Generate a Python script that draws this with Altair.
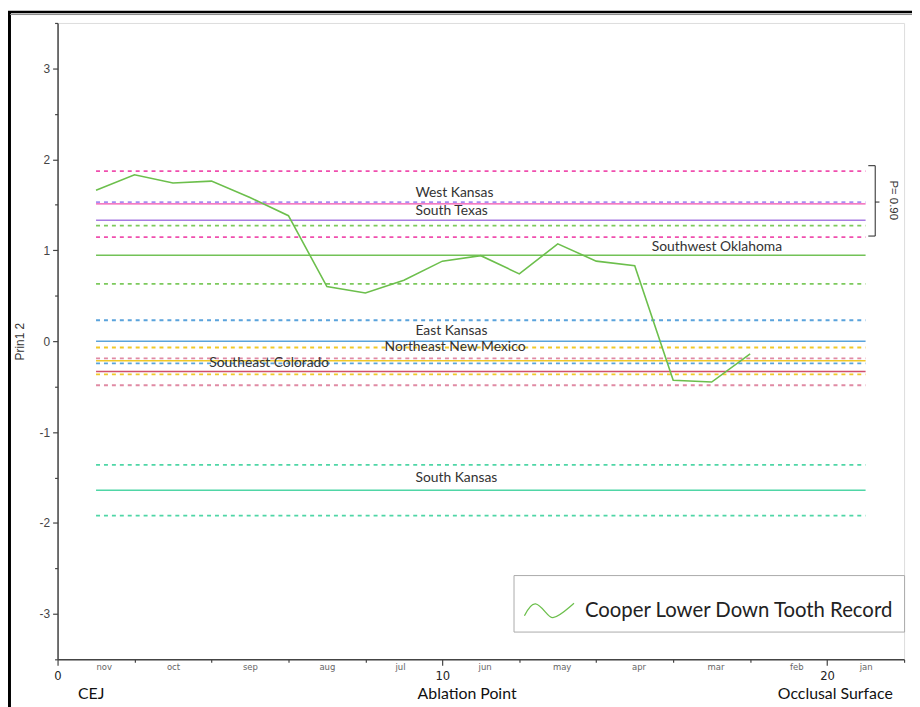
import altair as alt
import pandas as pd

# ---------------- data ----------------
regions = ["West Kansas", "South Texas", "Southwest Oklahoma", "East Kansas",
           "Northeast New Mexico", "Southeast Colorado", "South Kansas"]
mean_vals = [1.51, 1.33, 0.945, 0.0, -0.215, -0.335, -1.64]
upper_vals = [1.87, 1.53, 1.27, 0.23, -0.07, -0.19, -1.36]
lower_vals = [1.145, None, 0.63, -0.245, -0.365, -0.485, -1.92]
line_start = 1.0
line_end = 21.0

label_x = [9.3, 9.3, 15.44, 9.3, 8.5, 3.94, 9.3]
label_y = [1.63, 1.43, 1.04, 0.11, -0.065, -0.24, -1.505]

record_name = "Cooper Lower Down Tooth Record"
record_x = list(range(1, 19))
record_y = [1.66, 1.83, 1.74, 1.76, 1.58, 1.38, 0.60, 0.53, 0.67, 0.88,
            0.94, 0.74, 1.07, 0.88, 0.83, -0.43, -0.45, -0.14]

month_names = ["nov", "oct", "sep", "aug", "jul", "jun", "may", "apr", "mar", "feb", "jan"]
month_pos = [1.2, 3.0, 5.0, 7.0, 8.9, 11.1, 13.1, 15.1, 17.1, 19.2, 21.0]
region_titles = ["CEJ", "Ablation Point", "Occlusal Surface"]
region_title_pos = [0.86, 10.63, 20.2]
x_ticks = list(range(0, 23, 2)) + [10, 20]
y_ticks = [v / 2 for v in range(-7, 8)]

bracket_x = [21.07, 21.25, 21.25, 21.07]
bracket_y = [1.93, 1.93, 1.156, 1.156]
bracket_mid_x = [21.25, 21.36]
bracket_mid_y = [1.53, 1.53]
p_text = "P= 0.90"
p_x = 21.72
p_y = 1.55

# ---------------- styles ----------------
mean_colors = ["#f04fae", "#a77be2", "#72c257", "#5aa3dc", "#f0c828", "#d0506e", "#4fd6a6"]
limit_colors = ["#f04fae", "#a58ef2", "#7cc95c", "#5aa3dc", "#f0c828", "#e08aa4", "#4fd6a6"]

W, H = 854, 642
narrow = "Liberation Sans Narrow, DejaVu Sans Condensed, Arial Narrow, sans-serif"

# ---------------- tables ----------------
mean_df = pd.DataFrame({"region": regions, "key": regions, "value": mean_vals,
                        "x0": line_start, "x1": line_end})
lim_rows = []
for r, u, l in zip(regions, upper_vals, lower_vals):
    for v in (u, l):
        if v is not None:
            lim_rows.append({"region": r, "key": r + " limits", "value": v,
                             "x0": line_start, "x1": line_end})
lim_df = pd.DataFrame(lim_rows)
label_df = pd.DataFrame({"region": regions, "x": label_x, "y": label_y})
rec_df = pd.DataFrame({"x": record_x, "y": record_y, "series": record_name})
br_df = pd.DataFrame({
    "x": bracket_x + bracket_mid_x,
    "y": bracket_y + bracket_mid_y,
    "seg": ["a"] * len(bracket_x) + ["b"] * len(bracket_mid_x),
    "o": list(range(len(bracket_x))) + list(range(len(bracket_mid_x))),
})
p_df = pd.DataFrame({"x": [p_x], "y": [p_y], "t": [p_text]})

stroke_scale = alt.Scale(domain=regions + [r + " limits" for r in regions],
                         range=mean_colors + limit_colors)
xscale = alt.Scale(domain=[0, 22], nice=False, zero=False)
yscale = alt.Scale(domain=[-3.5, 3.5], nice=False, zero=False)


def lookup_expr(positions, names):
    s = "".join(f"datum.value == {p} ? '{n}' : " for p, n in zip(positions, names))
    return s + "''"


# numeric axis (ticks + 0/10/20)
axis_num = alt.Axis(
    orient="bottom", values=sorted(set(x_ticks)),
    labelExpr="datum.value % 10 == 0 ? '' + datum.value : ''",
    title=None, grid=False, labelOverlap=False, labelBound=False, labelFlush=False,
    labelAngle=0, labelBaseline="top", labelPadding=4,
    labelFont=narrow, labelFontSize=13, labelColor="#222",
    domainColor="#444", domainWidth=1.5, tickColor="#444", tickWidth=1.2,
    tickSize={"condition": {"test": "datum.value % 10 == 0", "value": 6}, "value": 3},
)
# month axis
axis_month = alt.Axis(
    orient="bottom", values=month_pos, labelExpr=lookup_expr(month_pos, month_names),
    title=None, grid=False, ticks=False, domain=False, labelOverlap=False,
    labelBound=False, labelFlush=False, labelAngle=0, labelBaseline="top",
    labelPadding=2, labelFont=narrow, labelFontSize=9.5, labelColor="#666",
)
# region title axis
axis_title = alt.Axis(
    orient="bottom", values=region_title_pos,
    labelExpr=lookup_expr(region_title_pos, region_titles),
    title=None, grid=False, ticks=False, domain=False, labelOverlap=False,
    labelBound=False, labelFlush=False, labelAngle=0, labelBaseline="top",
    labelPadding=27, labelFont="Lato", labelFontSize=16, labelColor="#111",
)

yaxis = alt.Axis(
    values=y_ticks,
    labelExpr="datum.value % 1 == 0 ? '' + datum.value : ''",
    title="Prin1 2", titleFont="Liberation Sans", titleFontWeight="normal",
    titleFontSize=12, titleColor="#333", titleX=-38, titleY=H / 2,
    titleAngle=270, titleAlign="center", titleBaseline="middle",
    grid=False, labelFont="Liberation Sans", labelFontSize=12, labelColor="#444",
    labelPadding=3, domainColor="#444", domainWidth=1.5, tickColor="#444",
    tickWidth=1.2,
    tickSize={"condition": {"test": "datum.value % 1 == 0", "value": 5}, "value": 3},
)

# ---------------- layers ----------------
dummy = pd.DataFrame({"k": [0]})
frame_left = alt.Chart(dummy).mark_rule(color="black", strokeWidth=3).encode(
    x=alt.value(-48.5), y=alt.value(-12), y2=alt.value(H + 50))
frame_top = alt.Chart(dummy).mark_rule(color="black", strokeWidth=2.5).encode(
    x=alt.value(-50), x2=alt.value(W + 10), y=alt.value(-11))
frame_top2 = alt.Chart(dummy).mark_rule(color="#888", strokeWidth=1).encode(
    x=alt.value(-48), x2=alt.value(W + 10), y=alt.value(-8.5))

limits = alt.Chart(lim_df).mark_rule(strokeWidth=1.8, strokeDash=[4, 4]).encode(
    x=alt.X("x0:Q", scale=xscale, axis=axis_num),
    x2="x1:Q",
    y=alt.Y("value:Q", scale=yscale, axis=yaxis),
    stroke=alt.Stroke("key:N", scale=stroke_scale, legend=None),
)
means = alt.Chart(mean_df).mark_rule(strokeWidth=1.5).encode(
    x=alt.X("x0:Q", scale=xscale, axis=axis_month), x2="x1:Q",
    y=alt.Y("value:Q", scale=yscale, axis=yaxis),
    stroke=alt.Stroke("key:N", scale=stroke_scale, legend=None),
)
labels = alt.Chart(label_df).mark_text(
    align="left", baseline="middle", font="Lato", fontSize=14, color="#333"
).encode(x=alt.X("x:Q", scale=xscale, axis=axis_title),
         y=alt.Y("y:Q", scale=yscale, axis=yaxis), text="region:N")

record = alt.Chart(rec_df).mark_line(strokeWidth=1.6).encode(
    x=alt.X("x:Q", scale=xscale, axis=None),
    y=alt.Y("y:Q", scale=yscale, axis=yaxis),
    color=alt.Color("series:N",
                    scale=alt.Scale(domain=[record_name], range=["#6cbf4c"]),
                    legend=alt.Legend(
                        title=None, orient="none", legendX=460, legendY=557,
                        padding=10, strokeColor="#aaa", fillColor="white",
                        symbolType="M-1,0.2 C-0.85,-0.1 -0.7,-0.3 -0.55,-0.28 "
                                   "C-0.3,-0.25 -0.05,0.3 0.15,0.28 "
                                   "C0.4,0.25 0.7,-0.05 1,-0.3",
                        symbolSize=2500, symbolStrokeWidth=1.3,
                        symbolFillColor="transparent",
                        labelFont="Lato", labelFontSize=20.5, labelColor="#222",
                        labelLimit=0, labelOffset=10)),
)

bracket = alt.Chart(br_df).mark_line(color="#222", strokeWidth=1).encode(
    x=alt.X("x:Q", scale=xscale, axis=None),
    y=alt.Y("y:Q", scale=yscale, axis=yaxis), detail="seg:N", order="o:Q")
ptext = alt.Chart(p_df).mark_text(angle=90, font="Liberation Sans", fontSize=11.5,
                                  color="#333", baseline="middle", align="center").encode(
    x=alt.X("x:Q", scale=xscale, axis=None),
    y=alt.Y("y:Q", scale=yscale, axis=yaxis), text="t:N")

chart = alt.layer(
    limits, means, labels, record, bracket, ptext, frame_left, frame_top, frame_top2
).resolve_axis(x="independent").properties(
    width=W, height=H,
    autosize=alt.AutoSizeParams(type="none"),
    padding={"left": 50, "top": 12, "right": 8, "bottom": 45},
).configure_view(stroke="#666", strokeWidth=1.5).configure(background="white")

chart.save("out.html", embed_options={"renderer": "svg", "actions": False})
